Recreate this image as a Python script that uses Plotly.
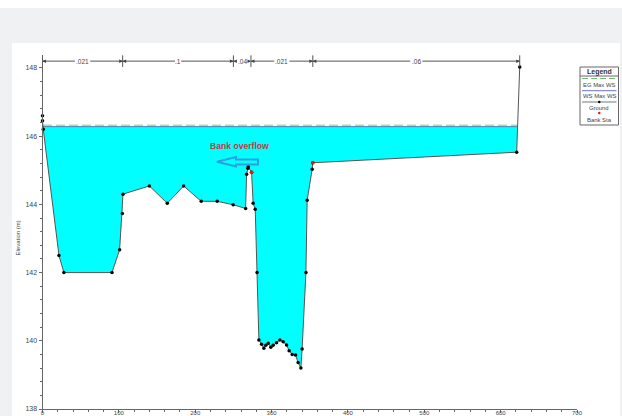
import plotly.graph_objects as go

W, H = 622, 416
# ---- data ----
ground_x = [0, 0, 1, 21.6, 28, 91, 101, 104.5, 105.4, 140, 163.4, 184.8, 207.9, 228.8, 249.7, 266,
            267.3, 269, 269.5, 273.8, 275.9, 278.6, 281, 283.4, 286.9, 289.9, 292.5, 295.6, 299, 302,
            306.5, 310.9, 315.2, 319.6, 323, 327, 331.4, 334.8, 338.4, 340, 345, 346.6, 353.2, 354,
            621, 625]
ground_y = [146.6, 146.45, 146.2, 142.5, 142.0, 142.0, 142.67, 143.73, 144.3, 144.54, 144.03, 144.54,
            144.09, 144.09, 143.99, 143.88, 144.88, 145.06, 145.1, 144.94, 144.03, 143.86, 142.0, 140.02,
            139.9, 139.78, 139.87, 139.93, 139.81, 139.87, 139.94, 140.02, 139.97, 139.88, 139.71, 139.6,
            139.58, 139.36, 139.2, 139.76, 142.0, 144.12, 145.03, 145.22, 145.53, 148.03]
bank_x = [273.8, 354]
bank_y = [144.94, 145.22]
ws_level = 146.28
eg_level = 146.31
ws_x = [0.7, 622]
n_breaks = [0, 105, 250, 273, 354, 625]
n_labels = [".021", ".1", ".04", ".021", ".06"]
n_level = 148.2
x_ticks = [0, 100, 200, 300, 400, 500, 600, 700]
y_ticks = [138, 140, 142, 144, 146, 148]
y_title = "Elevation (m)"
legend_title = "Legend"
legend_labels = ["EG Max WS", "WS Max WS", "Ground", "Bank Sta"]
callout = "Bank overflow"

# ---- layout helpers (pixel to paper) ----
L, R, T, B = 42.5, 577.0, 55.0, 409.0
px = lambda v: v / W
py = lambda v: 1 - v / H
FONT = "Liberation Sans"
TXT = "#444444"

fig = go.Figure()

# water fill: ground segment below water surface
fx = [ws_x[0]] + ground_x[2:-1] + [ws_x[1]]
fy = [ws_level] + ground_y[2:-1] + [ws_level]
fig.add_trace(go.Scatter(x=fx, y=fy, mode="lines", fill="toself", fillcolor="#00ffff",
                         line=dict(width=0), hoverinfo="skip", showlegend=False))
fig.add_trace(go.Scatter(x=[ws_x[0], 622], y=[eg_level, eg_level], mode="lines",
                         line=dict(color="#b5d3b5", width=2, dash="9px,4px"), showlegend=False))
fig.add_trace(go.Scatter(x=ws_x, y=[ws_level, ws_level], mode="lines",
                         line=dict(color="#3a6aa0", width=0.8), showlegend=False))
fig.add_trace(go.Scatter(x=ground_x, y=ground_y, mode="lines+markers",
                         line=dict(color="#555555", width=1),
                         marker=dict(color="black", size=3.5, symbol="circle"),
                         cliponaxis=False, showlegend=False))
fig.add_trace(go.Scatter(x=bank_x, y=bank_y, mode="markers",
                         marker=dict(color="#ff1010", size=3.5), cliponaxis=False, showlegend=False))

shapes = [
    dict(type="rect", xref="paper", yref="paper", x0=0, x1=1, y0=py(8), y1=1,
         fillcolor="white", line_width=0, layer="below"),
    dict(type="rect", xref="paper", yref="paper", x0=px(12), x1=px(620), y0=0, y1=py(43),
         fillcolor="white", line_width=0, layer="below"),
]
anns = []
# Manning's n strip
for i, xb in enumerate(n_breaks):
    shapes.append(dict(type="line", x0=xb, x1=xb, y0=n_level - 0.17, y1=n_level + 0.17,
                       line=dict(color="#555555", width=1)))
for i, lab in enumerate(n_labels):
    a, b = n_breaks[i], n_breaks[i + 1]
    mid = (a + b) / 2
    half = {".021": 10, ".1": 4, ".04": 7, ".06": 8}[lab]
    if b - a > 25:
        for s, e in ((a, mid - half), (mid + half, b)):
            shapes.append(dict(type="line", x0=s, x1=e, y0=n_level, y1=n_level,
                               line=dict(color="#555555", width=1)))
    anns.append(dict(x=mid, y=n_level, text=lab, showarrow=False, xanchor="center", yanchor="middle",
                     font=dict(family=FONT, size=6.5, color=TXT)))
    for xs, ax in ((a, a + 5), (b, b - 5)):
        anns.append(dict(x=xs, y=n_level, ax=ax, ay=n_level, xref="x", yref="y", axref="x", ayref="y",
                         text="", showarrow=True, arrowhead=2, arrowsize=0.7, arrowwidth=1,
                         arrowcolor="#444444"))

# callout
anns.append(dict(x=px(239), y=py(146), xref="paper", yref="paper", text="<b>" + callout + "</b>",
                 xanchor="center", yanchor="middle",
                 showarrow=False, font=dict(family=FONT, size=8.6, color="#c8383c")))
pts = [(217, 161.7), (236, 157), (236, 159.5), (258, 159.5), (258, 164.5), (236, 164.5), (236, 166.5)]
path = "M " + " L ".join(f"{px(a):.5f},{py(b):.5f}" for a, b in pts) + " Z"
shapes.append(dict(type="path", xref="paper", yref="paper", path=path,
                   line=dict(color="#2f9fe0", width=2), fillcolor="rgba(0,0,0,0)"))

# legend box
LX0, LX1, LY0, LY1 = 580, 618.5, 67, 125
shapes.append(dict(type="rect", xref="paper", yref="paper", x0=px(LX0), x1=px(LX1), y0=py(LY1), y1=py(LY0),
                   fillcolor="white", line=dict(color="#666666", width=1)))
shapes.append(dict(type="line", xref="paper", yref="paper", x0=px(LX0), x1=px(LX1), y0=py(76), y1=py(76),
                   line=dict(color="#666666", width=1)))
shapes.append(dict(type="line", xref="paper", yref="paper", x0=px(LX0 + 2), x1=px(LX1 - 2), y0=py(78.5), y1=py(78.5),
                   line=dict(color="#70c070", width=1, dash="6px,3px")))
shapes.append(dict(type="line", xref="paper", yref="paper", x0=px(LX0 + 2), x1=px(LX1 - 2), y0=py(90.7), y1=py(90.7),
                   line=dict(color="#7070c0", width=1)))
shapes.append(dict(type="line", xref="paper", yref="paper", x0=px(LX0 + 2), x1=px(LX1 - 2), y0=py(102), y1=py(102),
                   line=dict(color="#777777", width=1)))
for cy, col in ((102, "black"), (113, "#ff1010")):
    shapes.append(dict(type="circle", xref="paper", yref="paper",
                       x0=px(598), x1=px(600.5), y0=py(cy + 1.3), y1=py(cy - 1.3),
                       fillcolor=col, line_width=0))
anns.append(dict(x=px(599.2), y=py(71.5), xref="paper", yref="paper", text="<b>" + legend_title + "</b>",
                 xanchor="center", yanchor="middle",
                 showarrow=False, font=dict(family=FONT, size=7, color="#333333")))
for lab, cy in zip(legend_labels, (84.7, 96, 107.5, 119.5)):
    anns.append(dict(x=px(599.2), y=py(cy), xref="paper", yref="paper", text=lab, showarrow=False,
                     xanchor="center", yanchor="middle",
                     font=dict(family=FONT, size=5.9, color=TXT)))
# y title
anns.append(dict(x=px(17.5), y=py(238), xref="paper", yref="paper", text=y_title, textangle=-90,
                 xanchor="center", yanchor="middle",
                 showarrow=False, font=dict(family=FONT, size=6, color=TXT)))

fig.update_layout(
    width=W, height=H, margin=dict(l=0, r=0, t=0, b=0, autoexpand=False), autosize=False,
    paper_bgcolor="#eff1f3", plot_bgcolor="rgba(0,0,0,0)", showlegend=False,
    shapes=shapes, annotations=anns,
    font=dict(family=FONT, size=7, color=TXT),
    xaxis=dict(domain=[L / W, R / W], range=[0, 700], tickvals=x_ticks, ticks="outside", ticklen=3,
               tickcolor="#666666", showgrid=False, zeroline=False, showline=True, linecolor="#666666",
               tickfont=dict(size=6), ticklabelstandoff=-5,
               minor=dict(dtick=20, ticks="outside", ticklen=2, tickcolor="#666666"), anchor="y"),
    yaxis=dict(domain=[1 - B / H, 1 - T / H], range=[138, 148.38], tickvals=y_ticks, ticks="outside", ticklen=3,
               tickcolor="#666666", showgrid=False, zeroline=False, showline=True, linecolor="#666666",
               minor=dict(dtick=0.4, ticks="outside", ticklen=2, tickcolor="#666666"), anchor="x"),
)
fig.write_html("out.html", config={"displayModeBar": False}, post_script="document.body.style.margin='0';")
